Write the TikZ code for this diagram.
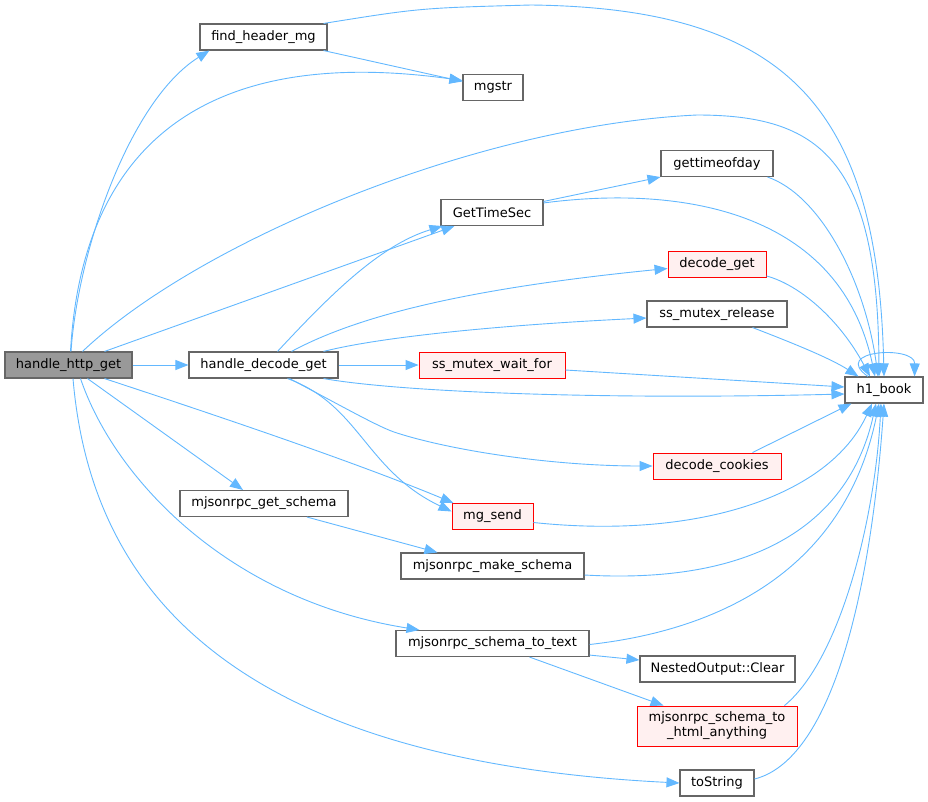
\documentclass[tikz,border=0pt]{standalone}
\usepackage{fontspec}
\setmainfont{DejaVu Sans}
\usetikzlibrary{arrows.meta,calc}
\definecolor{edgec}{HTML}{63B8FF}
\definecolor{boxc}{HTML}{666666}
\definecolor{redfill}{HTML}{FFF0F0}
\definecolor{redline}{HTML}{FF0000}
\definecolor{rootfill}{HTML}{999999}
\tikzset{
  fn/.style={draw=boxc, line width=1.1pt, fill=white, inner sep=0pt, minimum height=26pt,
    font=\fontsize{13}{15}\selectfont, text=black, align=center},
  fnred/.style={fn, draw=redline, fill=redfill, line width=0.9pt},
  fnroot/.style={fn, fill=rootfill},
  call/.style={draw=edgec, line width=0.9pt, -{Triangle[length=13pt,width=10pt]}},
}
\begin{document}
\begin{tikzpicture}[x=1pt,y=-1pt]
\useasboundingbox (0,0) rectangle (928,801);
% nodes
\node[fnroot, minimum width=127pt] (hhg) at (68.5,365) {handle\_http\_get};
\node[fn, minimum width=127pt] (fhm) at (263.5,37) {find\_header\_mg};
\node[fn, minimum width=60pt] (mgstr) at (493,87.5) {mgstr};
\node[fn, minimum width=149pt] (hdg) at (263.5,365) {handle\_decode\_get};
\node[fn, minimum width=102pt] (gts) at (492,212.5) {GetTimeSec};
\node[fn, minimum width=112pt] (gtod) at (717,163.5) {gettimeofday};
\node[fnred, minimum width=98pt] (dg) at (717,264.5) {decode\_get};
\node[fn, minimum width=140pt] (smr) at (717,314) {ss\_mutex\_release};
\node[fnred, minimum width=146pt] (smw) at (492,365) {ss\_mutex\_wait\_for};
\node[fn, minimum width=78pt] (h1) at (884,390) {h1\_book};
\node[fnred, minimum width=128pt] (dc) at (717,466) {decode\_cookies};
\node[fnred, minimum width=81pt] (mgs) at (492.5,516.5) {mg\_send};
\node[fn, minimum width=168pt] (mgsch) at (264,503.5) {mjsonrpc\_get\_schema};
\node[fn, minimum width=183pt] (mms) at (492.5,566) {mjsonrpc\_make\_schema};
\node[fn, minimum width=193pt] (mst) at (492.5,643.5) {mjsonrpc\_schema\_to\_text};
\node[fn, minimum width=155pt] (noc) at (717.5,669) {NestedOutput::Clear};
\node[fnred, minimum width=160pt, minimum height=40pt] (msh) at (717,726) {mjsonrpc\_schema\_to\\\_html\_anything};
\node[fn, minimum width=74pt] (ts) at (717,783) {toString};
% edges
\draw[call] (hhg.east) -- (hdg.west);
\draw[call] ($(hhg.north)+(2.5,0)$) .. controls (78,250) and (130,100) .. ($(fhm.south west)+(10,0)$);
\draw[call] ($(hhg.north)+(2,0)$) .. controls (80,180) and (170,40) .. ($(mgstr.west)+(0,-7)$);
\draw[call] ($(fhm.south east)+(-4,0)$) -- ($(mgstr.west)+(0,-6)$);
\draw[call] ($(fhm.north east)+(-4,0)$) .. controls (420,8) .. (531,5) .. controls (790,8) and (878,110) .. (h1.north);
\draw[call] ($(hhg.north)+(14,0)$) .. controls (200,240) and (480,125) .. (697,115) .. controls (820,115) and (878,160) .. ($(h1.north)+(-5,0)$);
\draw[call] ($(hhg.north)+(36,0)$) -- ($(gts.south west)+(14,0)$);
\draw[call] ($(hdg.north)+(14,0)$) .. controls (330,295) and (380,245) .. ($(gts.south west)+(2,0)$);
\draw[call] ($(gts.north east)+(0,2.5)$) -- (gtod.south west);
\draw[call] ($(gts.north east)+(0,4)$) .. controls (680,185) and (840,210) .. ($(h1.north)+(-9,0)$);
\draw[call] ($(gtod.south east)+(-6,0)$) .. controls (820,195) and (865,280) .. ($(h1.north)+(-6,0)$);
\draw[call] ($(hdg.north)+(28,0)$) .. controls (350,320) and (450,290) .. ($(dg.west)+(0,4)$);
\draw[call] ($(dg.south east)+(0,-2)$) .. controls (800,285) and (840,320) .. ($(h1.north)+(-14,0)$);
\draw[call] ($(hdg.north)+(60,0)$) .. controls (380,337) and (500,325) .. ($(smr.west)+(0,4)$);
\draw[call] ($(smr.south east)+(-35,0)$) .. controls (790,342) and (830,358) .. ($(h1.north west)+(14,0)$);
\draw[call] (hdg.east) -- (smw.west);
\draw[call] ($(smw.east)+(0,5)$) -- ($(h1.west)+(0,-3)$);
\draw[call] ($(hdg.south east)+(-15,0)$) .. controls (400,392) and (600,400) .. ($(h1.west)+(0,4)$);
\draw[call] ($(hdg.south)+(26,0)$) .. controls (340,405) and (380,428) .. (397,433) .. controls (450,450) and (550,466) .. (dc.west);
\draw[call] ($(dc.north east)+(-29,0)$) -- ($(h1.south west)+(7,0)$);
\draw[call] ($(hdg.south)+(24,0)$) .. controls (360,405) and (365,470) .. ($(mgs.west)+(0,-5)$);
\draw[call] ($(hhg.south)+(36,0)$) .. controls (200,410) and (350,460) .. ($(mgs.north west)+(2,0)$);
\draw[call] ($(mgs.east)+(0,6)$) .. controls (700,540) and (830,495) .. ($(h1.south)+(-12,0)$);
\draw[call] ($(hhg.south)+(19,0)$) -- ($(mgsch.north)+(-21,0)$);
\draw[call] ($(mgsch.south)+(43,0)$) -- ($(mms.north west)+(37,0)$);
\draw[call] ($(mms.east)+(0,9)$) .. controls (760,585) and (850,520) .. ($(h1.south)+(-8,0)$);
\draw[call] ($(hhg.south)+(12,0)$) .. controls (115,480) and (230,600) .. ($(mst.north west)+(24,0)$);
\draw[call] ($(mst.east)+(0,1)$) .. controls (720,630) and (845,570) .. ($(h1.south)+(-5,0)$);
\draw[call] ($(mst.south east)+(0,-2)$) -- ($(noc.west)+(0,-9)$);
\draw[call] ($(mst.south)+(37,0)$) -- ($(msh.north west)+(27,0)$);
\draw[call] ($(msh.north east)+(-13,0)$) .. controls (840,660) and (875,520) .. ($(h1.south)+(-3,0)$);
\draw[call] ($(hhg.south)+(4.5,0)$) .. controls (90,580) and (220,760) .. (ts.west);
\draw[call] ($(ts.east)+(0,-4)$) .. controls (830,760) and (870,600) .. (h1.south);
\draw[call] ($(h1.north)+(-16,0)$) .. controls (830,350) and (915,345) .. ($(h1.north east)+(-9,0)$);
\end{tikzpicture}
\end{document}
